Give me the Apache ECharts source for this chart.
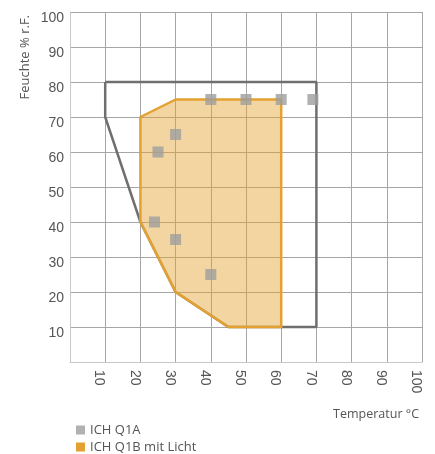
<!DOCTYPE html>
<html>
<head>
<meta charset="utf-8">
<script src="https://cdn.jsdelivr.net/npm/echarts@6/dist/echarts.min.js"></script>
<style>
html,body{margin:0;padding:0;background:#fff;}
#c{width:435px;height:454px;}
</style>
</head>
<body>
<div id="c"></div>
<script>
// Data
const seriesNames = ['ICH Q1A', 'ICH Q1B mit Licht'];
const axisTicks = [10, 20, 30, 40, 50, 60, 70, 80, 90, 100];
// ICH Q1A measurement points [temperature, humidity]
const q1aPoints = [[40, 75], [50, 75], [60, 75], [69, 75], [30, 65], [25, 60], [24, 40], [30, 35], [40, 25]];
// ICH Q1A outline polygon
const q1aOutline = [[10, 80], [70, 80], [70, 10], [45, 10], [30, 20], [20, 40], [10, 70], [10, 80]];
// ICH Q1B mit Licht polygon
const q1bPolygon = [[20, 70], [30, 75], [60, 75], [60, 10], [45, 10], [30, 20], [20, 40]];

const GRAY_PT = '#9d9d9d';
const GRAY_LINE = '#6f6f6f';
const ORANGE = '#e2a130';
const ORANGE_FILL = 'rgba(227,161,47,0.45)';
const labelFont = '"Liberation Sans", Arial, sans-serif';
const nameFont = '"Open Sans", "Noto Sans", sans-serif';

const chart = echarts.init(document.getElementById('c'), null, {renderer: 'canvas'});
const axisLabelFmt = v => (axisTicks.indexOf(v) >= 0 ? String(v) : '');

chart.setOption({
  animation: false,
  backgroundColor: '#fff',
  grid: {left: 70, right: 13, top: 12, bottom: 92, containLabel: false},
  legend: {
    orient: 'vertical', left: 71, top: 417, height: 80,
    itemWidth: 9, itemHeight: 9, itemGap: 1, icon: 'rect',
    data: seriesNames,
    textStyle: {fontFamily: nameFont, fontSize: 13, color: '#555', lineHeight: 16}
  },
  graphic: [{
    type: 'text', x: 25, y: 15, rotation: Math.PI / 2,
    style: {text: 'Feuchte % r.F.', fontFamily: nameFont, fontSize: 13, fill: '#555', align: 'right', verticalAlign: 'middle'}
  }],
  xAxis: {
    type: 'value', min: 0, max: 100, interval: 10,
    name: 'Temperatur °C', nameLocation: 'end',
    nameTextStyle: {fontFamily: nameFont, fontSize: 12.5, color: '#555', align: 'right', verticalAlign: 'top', padding: [46, 0, 0, 0]},
    nameGap: -3,
    axisLine: {show: true, lineStyle: {color: '#c8c8c8', width: 1}},
    axisTick: {show: false},
    axisLabel: {rotate: -90, margin: 8, fontFamily: labelFont, fontSize: 14, color: '#555', formatter: axisLabelFmt, verticalAlign: 'top', lineHeight: 12},
    splitLine: {show: true, lineStyle: {color: '#a6a6a6', width: 1}}
  },
  yAxis: {
    type: 'value', min: 0, max: 100, interval: 10,
    axisLine: {show: true, lineStyle: {color: '#c8c8c8', width: 1}},
    axisTick: {show: false},
    axisLabel: {margin: 6, fontFamily: labelFont, fontSize: 14, color: '#555', formatter: axisLabelFmt, verticalAlign: 'top', lineHeight: 12},
    splitLine: {show: true, lineStyle: {color: '#a6a6a6', width: 1}}
  },
  series: [
    {
      name: seriesNames[0], type: 'scatter', symbol: 'rect', symbolSize: 11,
      itemStyle: {color: GRAY_PT}, data: q1aPoints, z: 10
    },
    {
      name: seriesNames[1], type: 'custom', coordinateSystem: 'cartesian2d',
      itemStyle: {color: ORANGE},
      data: [[q1bPolygon[0][0], q1bPolygon[0][1]]],
      renderItem: function (params, api) {
        const pts = q1bPolygon.map(p => api.coord(p));
        return {
          type: 'polygon', shape: {points: pts},
          style: {fill: ORANGE_FILL, stroke: ORANGE, lineWidth: 2.5, lineJoin: 'round'}
        };
      },
      z: 4
    },
    {
      name: seriesNames[0], type: 'line', data: q1aOutline, showSymbol: false, symbol: 'none',
      lineStyle: {color: GRAY_LINE, width: 2.5}, itemStyle: {color: GRAY_PT}, z: 3
    }
  ]
});
</script>
</body>
</html>
